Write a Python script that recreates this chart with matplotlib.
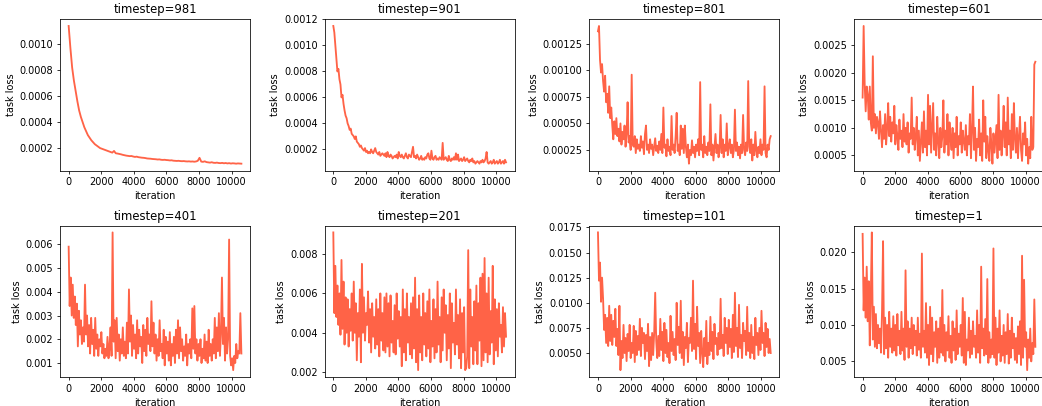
#!/usr/bin/env python3
"""Task loss per diffusion timestep over training iterations (2x4 grid)."""

import numpy as np
import matplotlib

matplotlib.use("Agg")
import matplotlib.pyplot as plt

OUTPUT_PNG = "out.png"
LINE_COLOR = "tomato"
LAST_ITER = 10600
DPI = 70

TIMESTEPS = [981, 901, 801, 601, 401, 201, 101, 1]

# values, in the unit given by SCALES
LOSS_981 = [
    114, 97, 82, 72, 64, 56, 49, 44, 40, 36, 33, 30, 28, 26, 24.5, 23, 22, 21, 20, 19.5,
    19, 18.5, 18, 17.5, 17, 16.5, 17.8, 16, 15.8, 15.5, 15.2, 14.8, 14.5, 14.2, 14, 13.8, 13.9, 13.5, 13.2, 13.4,
    13, 12.8, 12.6, 12.5, 12.3, 12, 11.9, 11.8, 11.6, 11.5, 11.4, 11.2, 11.3, 11, 10.9, 11, 10.8, 10.7, 10.5, 10.6,
    10.3, 10.2, 10.1, 10.2, 10, 9.9, 10, 9.8, 9.7, 9.8, 9.6, 9.7, 9.5, 9.7, 10.2, 12.5, 9.6, 9.4, 9.8, 9.2,
    9, 8.8, 9.1, 8.7, 8.6, 8.8, 8.5, 8.4, 8.6, 8.3, 8.5, 8.2, 8.4, 8.1, 8.3, 8.2, 8.0, 8.2, 8.1, 8.0,
]
LOSS_901 = [
    115, 110, 100, 90, 80, 82, 74, 70, 60, 62, 55, 50, 46, 44, 40, 38, 35, 36, 32, 31,
    30, 28, 30, 26, 25, 24, 22, 23, 21, 20, 19, 21, 18, 19, 17, 18, 17, 20, 18, 17,
    19, 21, 18, 17, 16, 18, 15, 16, 17, 16, 15, 17, 14, 18, 15, 14, 16, 15, 13, 14,
    15, 14, 16, 13, 18, 15, 14, 16, 14, 13, 15, 17, 14, 13, 16, 15, 14, 18, 22, 14,
    15, 13, 16, 14, 12, 13, 15, 12, 13, 12, 14, 13, 16, 17, 13, 12, 19, 13, 12, 14,
    15, 12, 13, 12, 14, 13, 12, 25, 12, 13, 14, 12, 11, 15, 12, 11, 13, 12, 14, 12,
    17, 12, 16, 11, 12, 13, 11, 12, 14, 11, 12, 13, 11, 10, 12, 11, 13, 10, 11, 9,
    10, 11, 10, 9, 11, 10, 12, 10, 11, 13, 18, 10, 9, 10, 11, 9, 10, 12, 9, 10,
    11, 9, 10, 12, 9, 10, 11, 9, 12, 10,
]
LOSS_801 = [
    137, 142, 110, 98, 106, 90, 80, 95, 70, 78, 60, 85, 55, 65, 48, 35, 52, 40, 55, 38,
    45, 33, 50, 30, 42, 35, 48, 28, 40, 70, 32, 38, 25, 96, 30, 28, 38, 22, 35, 26,
    30, 24, 38, 27, 33, 21, 40, 48, 25, 30, 22, 35, 26, 30, 20, 28, 36, 24, 29, 22,
    33, 25, 40, 22, 65, 27, 30, 19, 35, 24, 28, 20, 57, 25, 30, 22, 38, 60, 24, 30,
    20, 48, 26, 45, 22, 48, 28, 18, 30, 12, 25, 20, 34, 22, 28, 18, 30, 24, 35, 20,
    89, 25, 30, 18, 38, 22, 28, 20, 32, 24, 68, 20, 30, 15, 28, 40, 22, 30, 18, 26,
    58, 22, 35, 18, 30, 24, 50, 20, 28, 35, 22, 30, 18, 25, 63, 24, 32, 20, 28, 17,
    30, 22, 58, 25, 20, 32, 24, 90, 28, 22, 35, 15, 30, 20, 42, 24, 18, 28, 22, 35,
    20, 30, 25, 85, 22, 18, 30, 25, 35, 38,
]
LOSS_601 = [
    155, 285, 180, 130, 175, 160, 115, 175, 110, 95, 230, 100, 125, 90, 120, 110, 80, 130, 95, 65,
    105, 80, 125, 70, 100, 145, 85, 120, 75, 110, 90, 140, 70, 105, 85, 60, 115, 80, 95, 65,
    125, 75, 100, 70, 110, 55, 90, 80, 155, 70, 100, 60, 85, 120, 50, 95, 40, 75, 110, 55,
    130, 65, 95, 50, 160, 70, 140, 55, 100, 145, 60, 90, 50, 120, 75, 45, 100, 65, 85, 150,
    55, 95, 70, 125, 50, 110, 80, 60, 100, 45, 90, 65, 120, 50, 85, 70, 110, 55, 95, 75,
    60, 105, 50, 85, 70, 125, 45, 95, 175, 60, 100, 40, 80, 65, 115, 50, 90, 40, 150, 75,
    120, 45, 85, 60, 40, 100, 70, 35, 90, 55, 80, 105, 45, 160, 60, 95, 50, 85, 140, 65,
    110, 50, 155, 70, 95, 45, 125, 60, 145, 80, 55, 100, 45, 85, 120, 60, 40, 90, 70, 110,
    50, 80, 35, 65, 45, 120, 60, 65, 215, 220,
]
LOSS_401 = [
    59, 34, 46, 30, 43, 29, 38, 26, 35, 17, 32, 22, 28, 18, 25, 19, 43, 22, 30, 17,
    26, 14, 29, 18, 24, 13, 29, 16, 22, 13, 20, 17, 23, 14, 18, 12, 16, 13, 21, 12,
    17, 25, 13, 65, 19, 28, 12, 29, 15, 22, 11, 20, 14, 25, 13, 19, 12, 27, 14, 41,
    19, 30, 13, 26, 16, 22, 12, 28, 14, 24, 17, 21, 10, 26, 15, 24, 13, 29, 18, 22,
    15, 36, 17, 27, 14, 22, 11, 20, 13, 28, 15, 18, 12, 24, 9, 21, 14, 19, 11, 23,
    9, 18, 13, 21, 10, 24, 14, 28, 12, 25, 15, 20, 11, 17, 13, 22, 9, 18, 14, 20,
    12, 33, 16, 34, 14, 20, 11, 18, 13, 20, 10, 16, 12, 22, 11, 19, 10, 24, 13, 18,
    11, 20, 14, 29, 12, 25, 15, 31, 13, 22, 46, 18, 29, 11, 25, 14, 20, 62, 13, 9,
    12, 7, 13, 10, 18, 12, 15, 14, 31, 14,
]
LOSS_201 = [
    91, 50, 74, 48, 64, 44, 60, 39, 77, 42, 66, 34, 58, 40, 57, 33, 52, 41, 60, 36,
    66, 40, 55, 26, 50, 38, 62, 25, 75, 40, 58, 36, 50, 44, 61, 35, 52, 30, 55, 38,
    48, 32, 57, 34, 52, 28, 60, 36, 50, 31, 58, 30, 60, 33, 55, 28, 59, 35, 46, 30,
    54, 29, 60, 37, 51, 33, 48, 23, 62, 30, 52, 26, 60, 35, 48, 29, 55, 27, 58, 32,
    68, 25, 52, 21, 59, 30, 48, 26, 60, 34, 50, 28, 56, 32, 62, 25, 46, 33, 57, 27,
    52, 30, 66, 34, 48, 25, 58, 31, 62, 40, 54, 26, 49, 32, 60, 22, 55, 35, 45, 29,
    62, 34, 49, 27, 57, 22, 50, 30, 53, 21, 22, 28, 82, 22, 62, 33, 48, 24, 56, 31,
    64, 24, 55, 36, 68, 23, 70, 26, 78, 30, 60, 25, 68, 29, 51, 35, 74, 24, 57, 31,
    52, 28, 55, 38, 44, 30, 53, 33, 50, 38,
]
LOSS_101 = [
    170, 122, 140, 101, 125, 104, 73, 88, 60, 85, 57, 97, 62, 88, 58, 82, 66, 94, 57, 74,
    48, 97, 33, 62, 45, 78, 50, 65, 42, 69, 52, 78, 45, 60, 50, 77, 41, 72, 48, 67,
    53, 84, 47, 75, 60, 70, 44, 68, 52, 79, 37, 66, 43, 70, 48, 70, 110, 62, 45, 67,
    47, 84, 53, 71, 42, 80, 50, 73, 46, 60, 40, 87, 52, 71, 48, 64, 43, 100, 58, 76,
    50, 102, 45, 71, 38, 66, 55, 80, 41, 65, 60, 85, 52, 122, 54, 79, 44, 96, 57, 70,
    40, 72, 51, 36, 65, 47, 82, 39, 60, 48, 86, 52, 71, 44, 79, 59, 65, 48, 70, 54,
    104, 55, 68, 47, 85, 60, 75, 49, 83, 56, 74, 45, 88, 51, 110, 57, 75, 46, 98, 55,
    68, 45, 80, 62, 72, 48, 96, 52, 70, 45, 78, 50, 66, 44, 85, 58, 70, 48, 75, 53,
    92, 60, 70, 47, 80, 56, 74, 50, 64, 50,
]
LOSS_1 = [
    225, 120, 165, 110, 180, 105, 160, 72, 140, 227, 80, 125, 70, 115, 68, 100, 75, 95, 62, 120,
    215, 60, 110, 68, 100, 55, 118, 70, 95, 62, 112, 65, 100, 58, 115, 72, 92, 60, 118, 65,
    95, 52, 175, 70, 105, 55, 95, 68, 110, 60, 100, 72, 92, 58, 110, 66, 88, 55, 198, 70,
    92, 62, 130, 55, 100, 45, 125, 60, 110, 50, 90, 70, 105, 48, 95, 55, 110, 62, 148, 58,
    100, 50, 90, 65, 112, 55, 85, 48, 105, 65, 95, 52, 120, 60, 88, 70, 100, 58, 137, 48,
    118, 45, 80, 65, 110, 55, 92, 60, 105, 70, 85, 55, 120, 62, 100, 48, 180, 68, 95, 58,
    108, 60, 163, 48, 90, 55, 80, 60, 205, 55, 110, 45, 95, 62, 120, 50, 85, 58, 100, 48,
    90, 60, 115, 47, 92, 55, 110, 68, 88, 52, 82, 48, 98, 60, 105, 45, 195, 55, 162, 70,
    90, 38, 80, 55, 95, 50, 75, 60, 135, 70,
]

SERIES = [LOSS_981, LOSS_901, LOSS_801, LOSS_601, LOSS_401, LOSS_201, LOSS_101, LOSS_1]
SCALES = [1e-5, 1e-5, 1e-5, 1e-5, 1e-4, 1e-4, 1e-4, 1e-4]


def plot_grid() -> None:
    # the reference was rendered at a low dpi, so default font sizes come out small
    fig, axes = plt.subplots(
        2, 4, figsize=(1042 / DPI, 406 / DPI), dpi=DPI,
        gridspec_kw=dict(left=0.0576, right=1.0019, top=0.953, bottom=0.0714,
                         wspace=0.393, hspace=0.363),
    )

    for ax, step, values, scale in zip(axes.flat, TIMESTEPS, SERIES, SCALES):
        loss = np.asarray(values, dtype=float) * scale
        iters = np.linspace(0, LAST_ITER, len(loss))
        ax.plot(iters, loss, color=LINE_COLOR, linewidth=1.9)
        ax.set_title(f"timestep={step}")
        ax.set_xlabel("iteration")
        ax.set_ylabel("task loss")
        ax.set_xticks([0, 2000, 4000, 6000, 8000, 10000])

    fig.savefig(OUTPUT_PNG, dpi=DPI)
    plt.close(fig)


def main() -> None:
    plot_grid()


if __name__ == "__main__":
    main()
